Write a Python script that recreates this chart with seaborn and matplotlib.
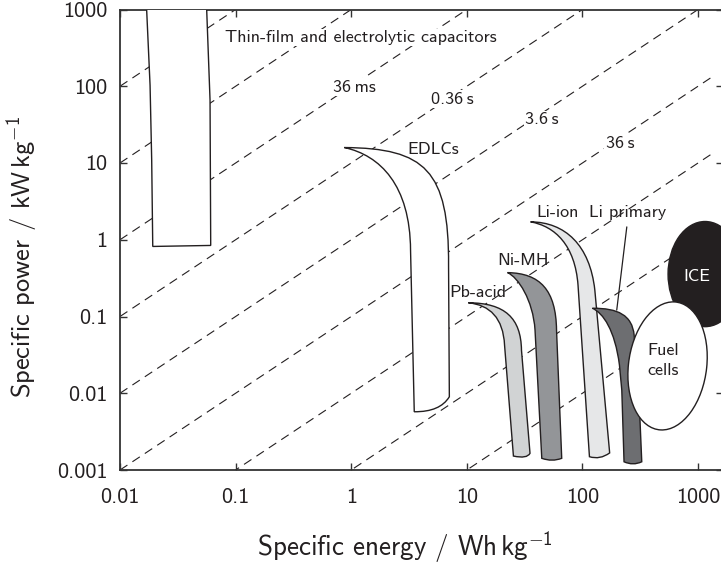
import numpy as np
import pandas as pd
import seaborn as sns
import matplotlib.pyplot as plt
from matplotlib.path import Path
from matplotlib.patches import PathPatch, Ellipse

# axis decades
x_ticks = [0.01, 0.1, 1, 10, 100, 1000]
x_tick_labels = ['0.01', '0.1', '1', '10', '100', '1000']
y_ticks = [0.001, 0.01, 0.1, 1, 10, 100, 1000]
y_tick_labels = ['0.001', '0.01', '0.1', '1', '10', '100', '1000']

# constant discharge-time lines (t = 3.6 E / P, seconds)
line_times = [3.6e-4, 3.6e-3, 0.036, 0.36, 3.6, 36, 360, 3600, 36000]
line_energy = [0.01, 1300]
time_labels = ['36\u2009ms', '0.36\u2009s', '3.6\u2009s', '36\u2009s']
time_label_E = [1.06, 7.45, 44.7, 211]
time_label_P = [84.3, 59.5, 32.0, 15.5]

# device regions: outline vertices (Wh/kg, kW/kg); M move, L line, C cubic, Q quadratic
thin_E = [0.0170, 0.0182, 0.0188, 0.0192, 0.0609, 0.0601, 0.0562]
thin_P = [1000, 103, 10.9, 0.818, 0.843, 65.7, 1000]
thin_codes = 'MLLLLLL'

edlc_E = [0.872, 4.35, 7.02, 6.95, 7.06, 5.87, 3.51, 3.26, 3.23, 1.78, 0.872]
edlc_P = [15.9, 15.6, 8.06, 0.467, 0.0090, 0.00569, 0.00574, 0.732, 5.14, 12.6, 15.9]
band_codes = 'MCCCLQQLCCC'

pb_E = [10.3, 21.4, 29.4, 29.7, 35.2, 33.2, 25.3, 21.2, 20.6, 15.9, 10.3]
pb_P = [0.151, 0.150, 0.0953, 0.0365, 0.00165, 0.00139, 0.00152, 0.0424, 0.0953, 0.141, 0.151]

nimh_E = [22.5, 43.0, 59.1, 59.7, 66.2, 54.6, 44.5, 38.9, 37.4, 27.7, 22.5]
nimh_P = [0.373, 0.367, 0.221, 0.0665, 0.00142, 0.00127, 0.00142, 0.0665, 0.164, 0.326, 0.373]

liion_E = [35.6, 70.7, 116, 128, 172, 142, 115, 91.6, 86.3, 57.9, 35.6]
liion_P = [1.71, 1.70, 0.851, 0.221, 0.00167, 0.00135, 0.00149, 0.256, 0.851, 1.50, 1.71]

liprim_E = [122, 203, 269, 280, 312, 326, 274, 229, 219, 209, 191, 151, 122]
liprim_P = [0.128, 0.129, 0.104, 0.0573, 0.00604, 0.00128, 0.00113, 0.00128, 0.0110, 0.0233, 0.0665, 0.111, 0.128]
liprim_codes = 'MCCCLLQQLLCCC'

leader_E = [242, 198]
leader_P = [1.47, 0.121]

# ellipses: centre (Wh/kg, kW/kg), size in decades, tilt
ice_center = (1150, 0.357)
ice_size = (0.64, 1.37)
fuel_center = (545, 0.0227)
fuel_size = (0.678, 1.672)
fuel_angle = -4

ink = '#231f20'

sns.set_theme(style='ticks')
plt.rcParams['font.family'] = ['cmss10', 'DejaVu Sans']
plt.rcParams['mathtext.fontset'] = 'custom'
plt.rcParams['mathtext.rm'] = 'cmss10'
plt.rcParams['mathtext.sf'] = 'cmss10'
plt.rcParams['mathtext.it'] = 'cmss10'
plt.rcParams['axes.unicode_minus'] = False

fig = plt.figure(figsize=(7.21, 5.66), dpi=100)
ax = fig.add_axes([120 / 721, 96 / 566, 603 / 721, 460.5 / 566])
ax.set_xscale('log')
ax.set_yscale('log')
ax.set_xlim(0.01, 1644)
ax.set_ylim(0.001, 1000)

lines_df = pd.DataFrame([(t, e, 3.6 * e / t) for t in line_times for e in line_energy],
                        columns=['t', 'E', 'P'])
sns.lineplot(data=lines_df, x='E', y='P', units='t', estimator=None, color=ink,
             lw=0.8, linestyle=(0, (8, 5.4)), legend=False, ax=ax, zorder=1)

code_map = {'M': Path.MOVETO, 'L': Path.LINETO, 'C': Path.CURVE4, 'Q': Path.CURVE3}


def region(E, P, codes, color):
    path = Path(np.column_stack([E, P]), [code_map[c] for c in codes])
    ax.add_patch(PathPatch(path, facecolor=color, edgecolor=ink, lw=1.0, zorder=3))


region(thin_E, thin_P, thin_codes, 'white')
region(edlc_E, edlc_P, band_codes, 'white')
region(pb_E, pb_P, band_codes, '#d1d3d4')
region(nimh_E, nimh_P, band_codes, '#939598')
region(liion_E, liion_P, band_codes, '#e6e7e8')
region(liprim_E, liprim_P, liprim_codes, '#6d6e71')

# ellipses drawn in log space
log_tr = ax.transLimits + ax.transAxes
ax.add_patch(Ellipse((np.log10(ice_center[0]), np.log10(ice_center[1])), ice_size[0], ice_size[1],
                     transform=log_tr, facecolor=ink, edgecolor=ink, lw=1.0, zorder=3))
ax.add_patch(Ellipse((np.log10(fuel_center[0]), np.log10(fuel_center[1])), fuel_size[0], fuel_size[1],
                     angle=fuel_angle, transform=log_tr, facecolor='white', edgecolor=ink,
                     lw=1.0, zorder=4))

ax.plot(leader_E, leader_P, color=ink, lw=0.9, zorder=5)

fs = 13
box = dict(facecolor='white', edgecolor='none', pad=1)
for lab, e, p in zip(time_labels, time_label_E, time_label_P):
    ax.text(e, p, lab, ha='center', va='baseline', fontsize=fs, color=ink, bbox=box, zorder=2)
ax.text(0.0809, 377, 'Thin-film and electrolytic capacitors', ha='left', va='baseline',
        fontsize=fs, color=ink, bbox=box, zorder=2)
ax.text(5.10, 13.0, 'EDLCs', ha='center', va='baseline', fontsize=fs, color=ink, zorder=6)
ax.text(12.5, 0.1775, 'Pb-acid', ha='center', va='baseline', fontsize=fs, color=ink, zorder=6)
ax.text(30.6, 0.467, 'Ni-MH', ha='center', va='baseline', fontsize=fs, color=ink, zorder=6)
ax.text(61.5, 1.99, 'Li-ion', ha='center', va='baseline', fontsize=fs, color=ink, zorder=6)
ax.text(248, 1.99, 'Li primary', ha='center', va='baseline', fontsize=fs, color=ink, zorder=6)
ax.text(980, 0.289, 'ICE', ha='center', va='baseline', fontsize=fs, color='white', zorder=6)
ax.text(498, 0.027, 'Fuel\ncells', ha='center', va='center', fontsize=fs, color=ink,
        linespacing=1.4, zorder=6)

ax.minorticks_off()
ax.set_xticks(x_ticks)
ax.set_xticklabels(x_tick_labels)
ax.set_yticks(y_ticks)
ax.set_yticklabels(y_tick_labels)
ax.tick_params(which='major', direction='in', length=5, width=1, top=True, right=True,
               labelsize=16, colors='#333333', labelcolor=ink, pad=9)
ax.tick_params(axis='x', pad=13)
for s in ax.spines.values():
    s.set_linewidth(1.3)
    s.set_color('#333333')

ax.set_xlabel('Specific energy / Wh$\\,$kg$^{-1}$', fontsize=19.5, color=ink)
ax.set_ylabel('Specific power / kW$\\,$kg$^{-1}$', fontsize=19, color=ink)
ax.xaxis.set_label_coords(0.4726, -0.128)
ax.yaxis.set_label_coords(-0.133, 0.462)

fig.savefig('out.png', dpi=100)
